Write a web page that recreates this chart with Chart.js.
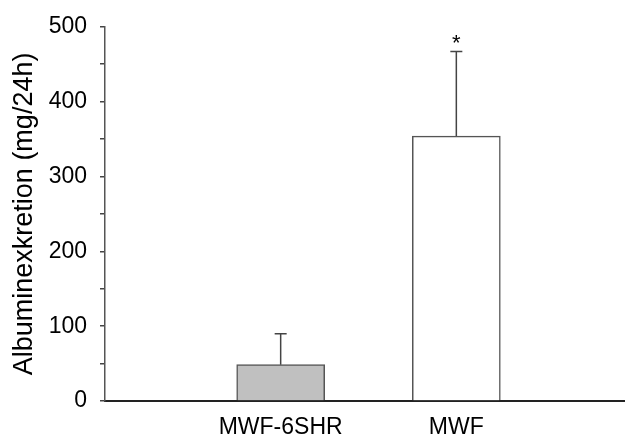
<!DOCTYPE html>
<html>
<head>
<meta charset="utf-8">
<script src="https://cdn.jsdelivr.net/npm/chart.js@4"></script>
<style>
  html, body { margin: 0; padding: 0; background: #fff; overflow: hidden; }
  #wrap { width: 645px; height: 438px; position: relative; }
</style>
</head>
<body>
<div id="wrap"><canvas id="c" width="645" height="438"></canvas></div>
<script>
// Data
const categories = ['', 'MWF-6SHR', 'MWF', ''];
const means = [null, 48.6, 354, null];
const errorsUp = [null, 41.4, 113, null];
const barColors = ['#c0c0c0', '#c0c0c0', '#ffffff', '#ffffff'];
const significance = ['', '', '*', ''];
const yTicksMax = 500;

const FONT = '"Liberation Sans", Arial, sans-serif';

const errorBarPlugin = {
  id: 'errorBars',
  afterDatasetsDraw(chart) {
    const ctx = chart.ctx;
    const xs = chart.scales.x, ys = chart.scales.y;
    ctx.save();
    means.forEach((m, i) => {
      if (m == null) return;
      const x = xs.getPixelForValue(i);
      const yTop = ys.getPixelForValue(m);
      const yErr = ys.getPixelForValue(m + errorsUp[i]);
      ctx.strokeStyle = '#444';
      ctx.lineWidth = 1.5;
      ctx.beginPath();
      ctx.moveTo(x, yTop);
      ctx.lineTo(x, yErr);
      ctx.moveTo(x - 6, yErr);
      ctx.lineTo(x + 6, yErr);
      ctx.stroke();
      if (significance[i]) {
        ctx.fillStyle = '#000';
        ctx.font = '22px ' + FONT;
        ctx.textAlign = 'center';
        ctx.textBaseline = 'alphabetic';
        ctx.fillText(significance[i], x, yErr - 1);
      }
    });
    ctx.restore();
  }
};

new Chart(document.getElementById('c'), {
  type: 'bar',
  data: {
    labels: categories,
    datasets: [{
      data: means,
      backgroundColor: barColors,
      borderColor: '#555',
      borderWidth: 1.5,
      borderSkipped: 'bottom',
      barThickness: 88
    }]
  },
  options: {
    responsive: false,
    animation: false,
    devicePixelRatio: 1,
    layout: { padding: { top: 10, right: 9, left: 0, bottom: 0 } },
    plugins: { legend: { display: false }, tooltip: { enabled: false } },
    scales: {
      x: {
        offset: false,
        grid: { display: false, drawTicks: false },
        border: { display: true, color: '#222', width: 2 },
        ticks: { color: '#000', font: { family: FONT, size: 23 }, padding: 13, maxRotation: 0, autoSkip: false },
        afterFit(s) { s.height = 37; }
      },
      y: {
        min: 0, max: yTicksMax,
        grid: { drawOnChartArea: false, drawTicks: true, tickLength: 5, color: '#444', lineWidth: 1.5 },
        border: { display: true, color: '#555', width: 1.5 },
        ticks: {
          stepSize: 50,
          color: '#000',
          font: { family: FONT, size: 23 },
          padding: 13,
          callback: v => (v % 100 === 0 ? String(v) : '')
        },
        title: { display: true, text: 'Albuminexkretion (mg/24h)', color: '#000', font: { family: FONT, size: 27 }, padding: { top: 8, bottom: 0 } },
        afterFit(s) { s.width = 105; }
      }
    }
  },
  plugins: [errorBarPlugin]
});
</script>
</body>
</html>
